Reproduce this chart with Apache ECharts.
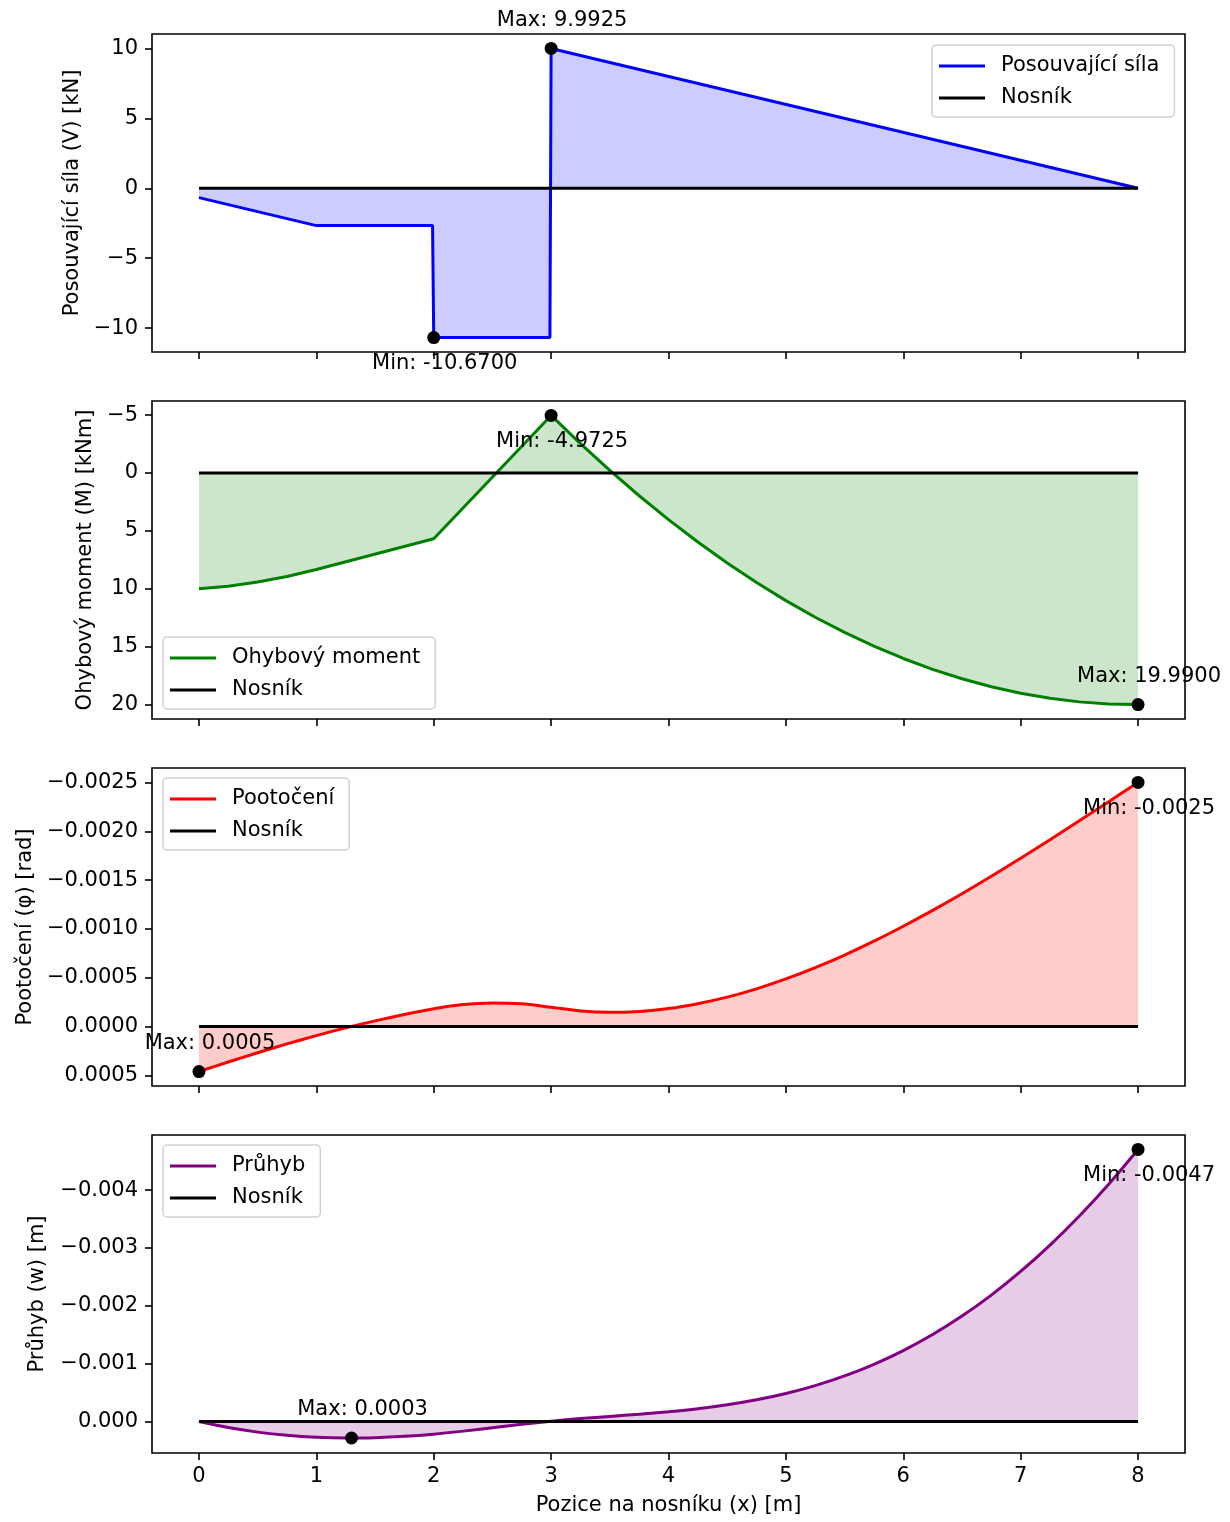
<!DOCTYPE html>
<html>
<head>
<meta charset="utf-8">
<script src="https://cdn.jsdelivr.net/npm/echarts@6/dist/echarts.min.js"></script>
<style>
html,body{margin:0;padding:0;background:#fff;}
#c{width:1230px;height:1522px;}
</style>
</head>
<body>
<div id="c"></div>
<script>
// ---------- data ----------
const xTicks = [0, 1, 2, 3, 4, 5, 6, 7, 8];

// Shear force V [kN]
const shearX = [0, 1, 1.99, 2.0, 2.99, 3.0, 8];
const shearV = [-0.67, -2.67, -2.67, -10.67, -10.67, 9.9925, 0];

// Bending moment M [kNm]
const momentX = [0, 0.25, 0.5, 0.75, 1, 2, 3, 3.25, 3.5, 3.75, 4, 4.25, 4.5, 4.75, 5, 5.25, 5.5, 5.75, 6, 6.25, 6.5, 6.75, 7, 7.25, 7.5, 7.75, 8];
const momentM = [10, 9.77, 9.415, 8.935, 8.33, 5.67, -4.9725, -2.537, -0.226, 1.96, 4.021, 5.957, 7.768, 9.454, 11.015, 12.452, 13.764, 14.95, 16.012, 16.948, 17.76, 18.447, 19.01, 19.446, 19.759, 19.946, 19.99];

// Rotation phi [rad] and deflection w [m]
const curveX = [0, 0.25, 0.5, 0.75, 1, 1.25, 1.5, 1.75, 2, 2.25, 2.5, 2.75, 3, 3.25, 3.5, 3.75, 4, 4.25, 4.5, 4.75, 5, 5.25, 5.5, 5.75, 6, 6.25, 6.5, 6.75, 7, 7.25, 7.5, 7.75, 8];
const rotPhi = [0.00046, 0.000362, 0.000268, 0.000177, 0.000092, 0.000013, -0.000059, -0.000125, -0.000184, -0.000227, -0.000243, -0.000233, -0.000198, -0.000161, -0.000147, -0.000156, -0.000185, -0.000235, -0.000302, -0.000387, -0.000488, -0.000604, -0.000733, -0.000875, -0.001028, -0.00119, -0.001361, -0.00154, -0.001724, -0.001914, -0.002107, -0.002303, -0.0025];
const deflW = [0, 0.000103, 0.000182, 0.000237, 0.000271, 0.000284, 0.000278, 0.000255, 0.000217, 0.000165, 0.000106, 0.000047, -0.000007, -0.000052, -0.00009, -0.000128, -0.000171, -0.000223, -0.00029, -0.000376, -0.000486, -0.000622, -0.000789, -0.00099, -0.001228, -0.001505, -0.001824, -0.002187, -0.002595, -0.00305, -0.003553, -0.004104, -0.004704];

// Beam line
const beamX = [0, 8];
const beamY = [0, 0];

// Extremes
const shearExtX = [3.0, 2.0];
const shearExtY = [9.9925, -10.67];
const shearExtLabel = ['Max: 9.9925', 'Min: -10.6700'];
const momentExtX = [3.0, 8.0];
const momentExtY = [-4.9725, 19.99];
const momentExtLabel = ['Min: -4.9725', 'Max: 19.9900'];
const rotExtX = [8.0, 0.0];
const rotExtY = [-0.0025, 0.00046];
const rotExtLabel = ['Min: -0.0025', 'Max: 0.0005'];
const deflExtX = [8.0, 1.3];
const deflExtY = [-0.004704, 0.000284];
const deflExtLabel = ['Min: -0.0047', 'Max: 0.0003'];

// Tick values
const vTicks = [-10, -5, 0, 5, 10];
const mTicks = [-5, 0, 5, 10, 15, 20];
const phiTicks = [-0.0025, -0.002, -0.0015, -0.001, -0.0005, 0, 0.0005];
const wTicks = [-0.004, -0.003, -0.002, -0.001, 0];

// Axis ranges
const yRanges = [[-11.703, 11.026], [-6.2206, 21.238], [-0.002648, 0.000608], [-0.004954, 0.000543]];

const seriesNames = ['Posouvající síla', 'Ohybový moment', 'Pootočení', 'Průhyb'];
const axisTitles = ['Posouvající síla (V) [kN]', 'Ohybový moment (M) [kNm]', 'Pootočení (φ) [rad]', 'Průhyb (w) [m]'];

// ---------- build chart ----------
const FONT = 'DejaVu Sans';
const FS = 21;
const colors = ['#0000ff', '#008000', '#ff0000', '#800080'];
const fills = ['rgba(0,0,255,0.2)', 'rgba(0,128,0,0.2)', 'rgba(255,0,0,0.2)', 'rgba(128,0,128,0.2)'];
const tops = [34, 401, 768, 1135];
const nameGaps = [69, 54, 116, 104];
const decimals = [0, 0, 4, 3];
const yTickSets = [vTicks, mTicks, phiTicks, wTicks];
const inverse = [false, true, true, true];
const smoothing = [false, false, 0.3, 0.3];

const zip = (xs, ys) => xs.map((x, i) => [x, ys[i]]);
const mainData = [zip(shearX, shearV), zip(momentX, momentM), zip(curveX, rotPhi), zip(curveX, deflW)];
const extX = [shearExtX, momentExtX, rotExtX, deflExtX];
const extY = [shearExtY, momentExtY, rotExtY, deflExtY];
const extL = [shearExtLabel, momentExtLabel, rotExtLabel, deflExtLabel];

function fmt(v, d) {
  let s = Number(v).toFixed(d);
  if (v < 0 && Math.abs(v) > 1e-12) s = '\u2212' + s.replace('-', '');
  else s = s.replace('-', '');
  return s;
}

const grids = [], xAxes = [], yAxes = [], series = [], legends = [];
const legendPos = [
  { left: 932, top: 45 },
  { left: 163, top: 637 },
  { left: 163, top: 778 },
  { left: 163, top: 1145 }
];

for (let i = 0; i < 4; i++) {
  grids.push({
    left: 152, width: 1033, top: tops[i], height: 318,
    show: true, borderColor: '#000', borderWidth: 1.6, backgroundColor: 'transparent',
    containLabel: false, outerBoundsMode: 'none'
  });
  const last = i === 3;
  xAxes.push({
    type: 'value', gridIndex: i, min: -0.4, max: 8.4, position: 'bottom',
    axisLine: { show: false, onZero: false },
    splitLine: { show: false },
    axisTick: { show: true, customValues: xTicks, length: 7, lineStyle: { color: '#000', width: 1.6 } },
    axisLabel: { show: last, customValues: xTicks, margin: 13, fontSize: FS, color: '#000', fontFamily: FONT },
    name: last ? 'Pozice na nosníku (x) [m]' : '',
    nameLocation: 'middle', nameGap: 42,
    nameTextStyle: { fontSize: FS, color: '#000', fontFamily: FONT }
  });
  const d = decimals[i];
  yAxes.push({
    type: 'value', gridIndex: i, min: yRanges[i][0], max: yRanges[i][1], inverse: inverse[i], position: 'left',
    axisLine: { show: false, onZero: false },
    splitLine: { show: false },
    axisTick: { show: true, customValues: yTickSets[i], length: 7, lineStyle: { color: '#000', width: 1.6 } },
    axisLabel: { show: true, customValues: yTickSets[i], margin: 14, fontSize: FS, color: '#000', fontFamily: FONT,
      formatter: v => fmt(v, d) },
    name: axisTitles[i], nameLocation: 'middle', nameGap: nameGaps[i],
    nameTextStyle: { fontSize: FS, color: '#000', fontFamily: FONT }
  });
  series.push({
    name: seriesNames[i], type: 'line', xAxisIndex: i, yAxisIndex: i,
    data: mainData[i], showSymbol: false, symbol: 'none', color: colors[i],
    smooth: smoothing[i],
    lineStyle: { color: colors[i], width: 3 },
    areaStyle: { color: fills[i], origin: 'auto', opacity: 1 },
    z: 2
  });
  series.push({
    name: 'Nosník', type: 'line', xAxisIndex: i, yAxisIndex: i,
    data: zip(beamX, beamY), showSymbol: false, symbol: 'none', color: '#000',
    lineStyle: { color: '#000', width: 3 }, z: 3
  });
  const labels = extL[i];
  series.push({
    name: 'ext' + i, type: 'scatter', xAxisIndex: i, yAxisIndex: i,
    symbol: 'circle', symbolSize: 13, itemStyle: { color: '#000', opacity: 1 }, z: 5,
    emphasis: { disabled: true },
    data: extX[i].map((x, k) => ({
      value: [x, extY[i][k]],
      label: { offset: labels[k].startsWith('Max') ? [11, -28] : [11, 26] }
    })),
    label: {
      show: true, position: 'inside', align: 'center', verticalAlign: 'middle',
      fontSize: FS, color: '#000', fontFamily: FONT, opacity: 1,
      formatter: p => labels[p.dataIndex]
    }
  });
  legends.push(Object.assign({
    orient: 'vertical',
    data: [seriesNames[i], 'Nosník'],
    icon: 'rect', itemWidth: 46, itemHeight: 3, itemGap: 10,
    padding: [10, 15, 8, 7],
    borderColor: '#d0d0d0', borderWidth: 1.5, borderRadius: 4,
    backgroundColor: 'rgba(255,255,255,0.8)',
    selectedMode: false,
    textStyle: { fontSize: FS, color: '#000', fontFamily: FONT, lineHeight: 22, padding: [0, 0, 0, 11] }
  }, legendPos[i]));
}

const chart = echarts.init(document.getElementById('c'), null, { renderer: 'canvas' });
chart.setOption({
  animation: false,
  backgroundColor: '#fff',
  textStyle: { fontFamily: FONT },
  grid: grids, xAxis: xAxes, yAxis: yAxes, series: series, legend: legends
});
</script>
</body>
</html>
